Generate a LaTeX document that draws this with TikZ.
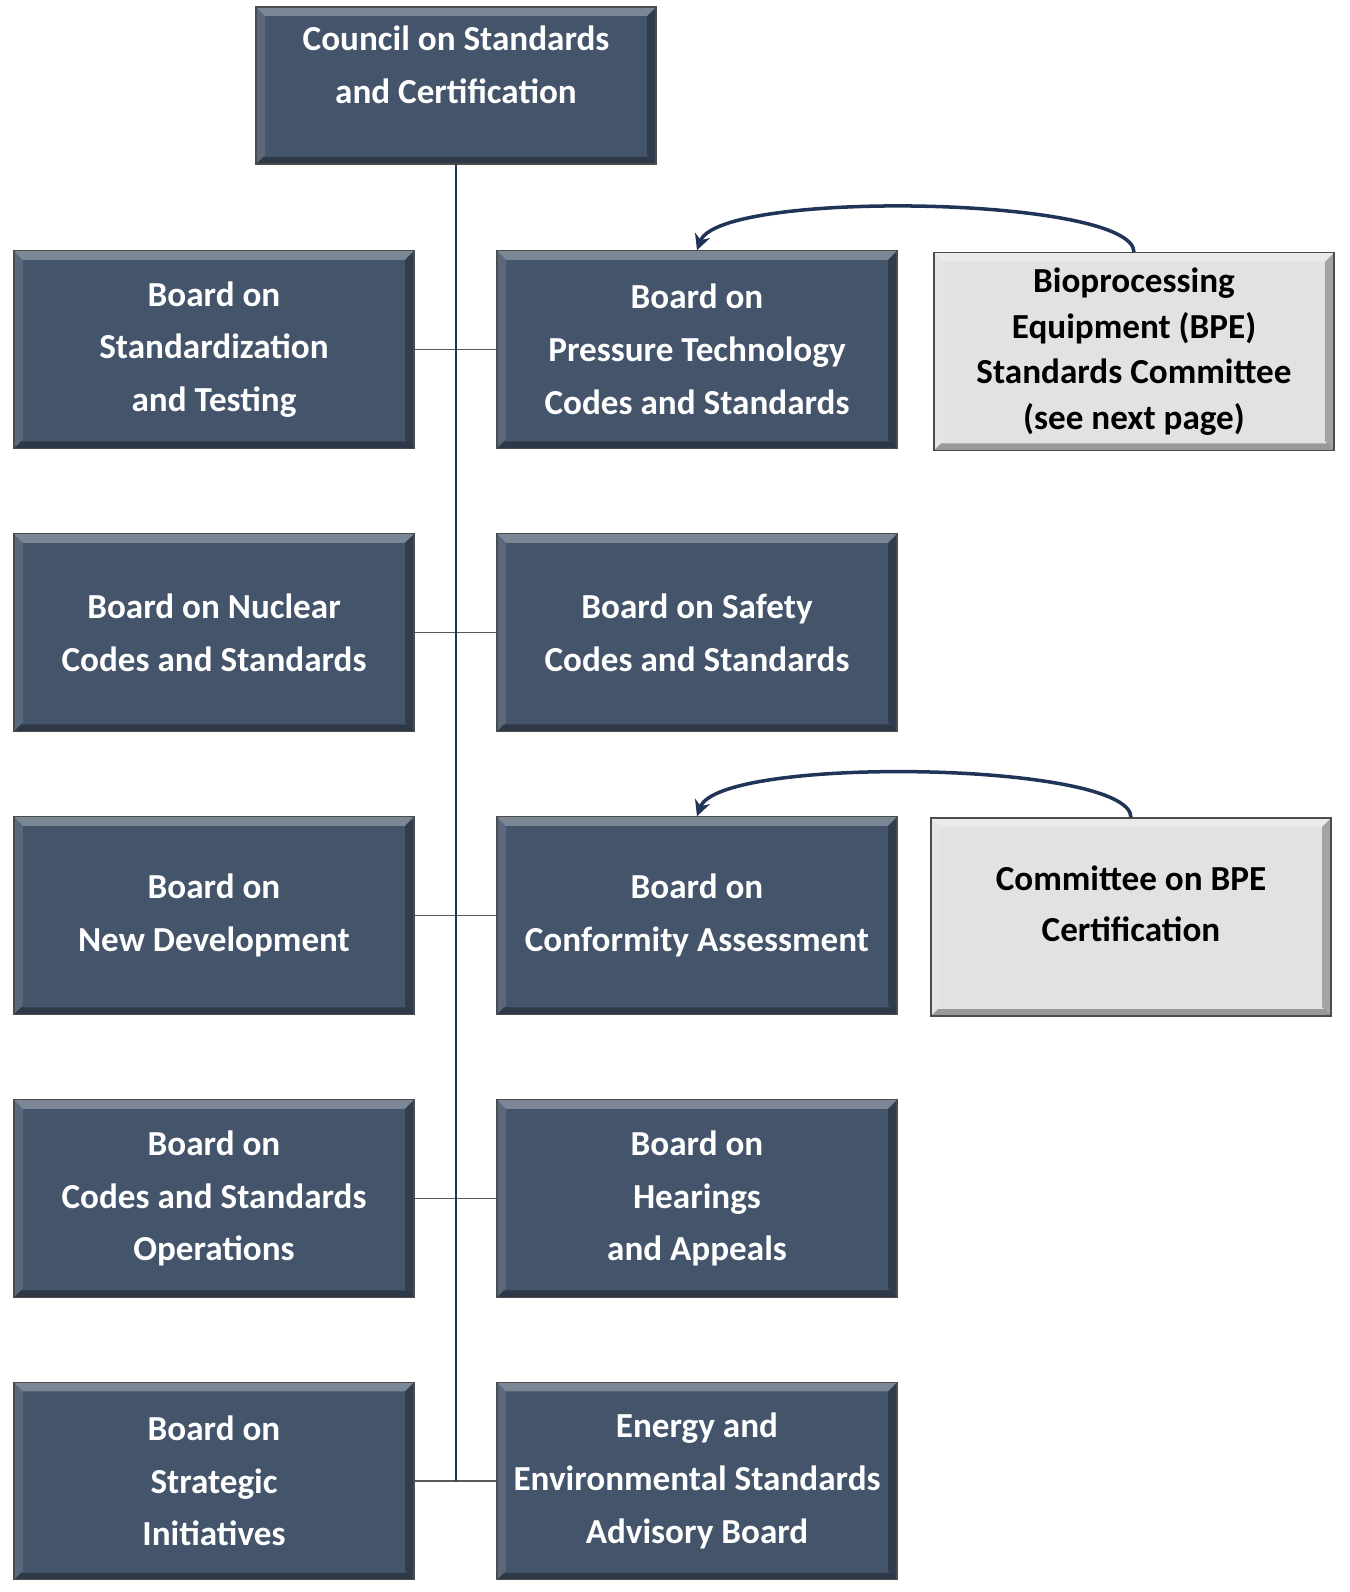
\documentclass[tikz,border=0pt]{standalone}
\usepackage{fontspec}
\setmainfont{Carlito}
\usepackage{xcolor}
\usetikzlibrary{arrows.meta}

\definecolor{slate}{RGB}{68,84,106}
\definecolor{navy}{RGB}{31,52,86}
\definecolor{lightgrey}{RGB}{226,226,226}

\tikzset{
  bevel/.style={path picture={
    \coordinate (bnw) at (path picture bounding box.north west);
    \coordinate (bse) at (path picture bounding box.south east);
    \coordinate (bne) at (bse |- bnw);
    \coordinate (bsw) at (bnw |- bse);
    \fill[white,opacity=.30] (bnw) -- (bne) -- ([shift={(-0.18,-0.18)}]bne) -- ([shift={(0.18,-0.18)}]bnw) -- cycle;
    \fill[white,opacity=.12] (bnw) -- ([shift={(0.18,-0.18)}]bnw) -- ([shift={(0.18,0.18)}]bsw) -- (bsw) -- cycle;
    \fill[black,opacity=.28] (bse) -- (bne) -- ([shift={(-0.18,-0.18)}]bne) -- ([shift={(-0.18,0.18)}]bse) -- cycle;
    \fill[black,opacity=.32] (bse) -- (bsw) -- ([shift={(0.14,0.14)}]bsw) -- ([shift={(-0.14,0.14)}]bse) -- cycle;
  }},
  board/.style={draw=black!70, line width=0.6pt, fill=slate, bevel, text=white,
    minimum width=8cm, minimum height=3.95cm, align=center,
    font=\fontsize{20}{30}\selectfont\bfseries},
  committee/.style={board, fill=lightgrey, text=black,
    font=\fontsize{20}{26}\selectfont\bfseries},
  trunk/.style={navy, line width=1.1pt},
  branch/.style={black!65, line width=0.9pt},
  link/.style={navy, line width=2pt, -{Stealth[length=9pt,width=9pt]}}
}

\begin{document}
\begin{tikzpicture}
    \useasboundingbox (0,0) rectangle (27,-31.84);

    % Council
    \node[board, minimum height=3.14cm] (council) at (9.12,-1.71) {};
    \node[text=white, align=center, font=\fontsize{20}{30}\selectfont\bfseries] (counciltxt) at ([yshift=0.42cm]council.center) {Council on Standards\\and Certification};

    % Boards, left column
    \node[board] (stdtest) at (4.28,-6.99) {Board on\\Standardization\\and Testing};
    \node[board] (nuclear) at (4.28,-12.65) {Board on Nuclear\\Codes and Standards};
    \node[board] (newdev) at (4.28,-18.31) {Board on\\New Development};
    \node[board] (csops) at (4.28,-23.97) {Board on\\Codes and Standards\\Operations};
    \node[board] (strategic) at (4.28,-29.62) {Board on\\Strategic\\Initiatives};

    % Boards, right column
    \node[board] (pressure) at (13.94,-6.99) {Board on\\Pressure Technology\\Codes and Standards};
    \node[board] (safety) at (13.94,-12.65) {Board on Safety\\Codes and Standards};
    \node[board] (conformity) at (13.94,-18.31) {Board on\\Conformity Assessment};
    \node[board] (hearings) at (13.94,-23.97) {Board on\\Hearings\\and Appeals};
    \node[board] (energy) at (13.94,-29.62) {Energy and\\Environmental Standards\\Advisory Board};

    % Committees
    \node[committee] (bpe) at (22.68,-7.03) {Bioprocessing\\Equipment (BPE)\\Standards Committee\\(see next page)};
    \node[committee, minimum height=3.96cm] (bpecert) at (22.62,-18.34) {};
    \node[align=center, font=\fontsize{20}{29}\selectfont\bfseries] (bpecerttxt) at ([yshift=0.26cm]bpecert.center) {Committee on BPE\\Certification};

    % Connectors
    \draw[branch] (stdtest) -- (pressure);
    \draw[branch] (nuclear) -- (safety);
    \draw[branch] (newdev) -- (conformity);
    \draw[branch] (csops) -- (hearings);
    \draw[branch] (strategic) -- (energy);
    \draw[trunk] (council.south) -- (council.south |- strategic.east);

    % Arcs
    \draw[link] (bpe.north) .. controls +(0,1.12) and +(0.45,1.22) .. (pressure.north);
    \draw[link] (bpecert.north) .. controls +(0,1.12) and +(0.45,1.22) .. (conformity.north);
\end{tikzpicture}
\end{document}
